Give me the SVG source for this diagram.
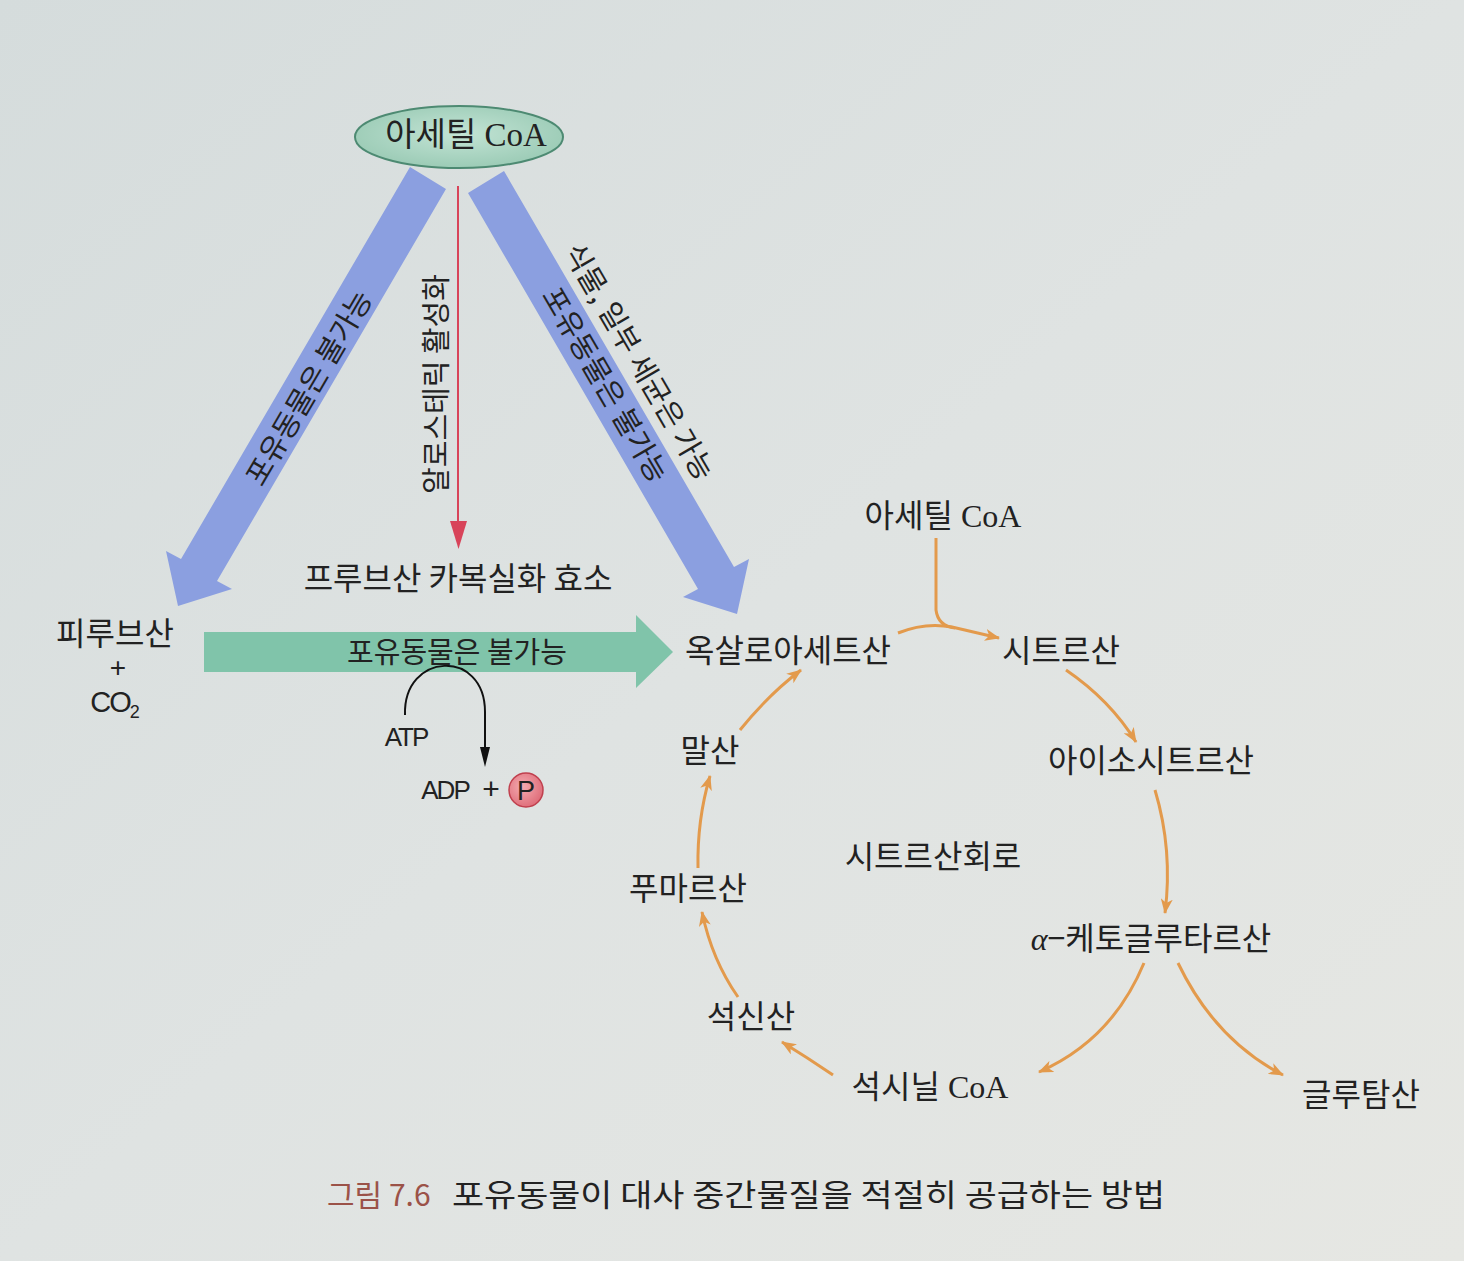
<svg xmlns="http://www.w3.org/2000/svg" width="1464" height="1261" viewBox="0 0 1464 1261">
<defs>
<linearGradient id="bg" x1="0" y1="0" x2="1" y2="1">
<stop offset="0" stop-color="#d5dcdc"/>
<stop offset="0.5" stop-color="#dfe3e2"/>
<stop offset="1" stop-color="#e6e7e3"/>
</linearGradient>
<radialGradient id="ell" cx="0.5" cy="0.45" r="0.6">
<stop offset="0" stop-color="#c3e4d5"/>
<stop offset="1" stop-color="#98c9b3"/>
</radialGradient>
<radialGradient id="pc" cx="0.4" cy="0.4" r="0.6">
<stop offset="0" stop-color="#f4aab0"/>
<stop offset="1" stop-color="#e0707c"/>
</radialGradient>
<marker id="oh" markerUnits="userSpaceOnUse" markerWidth="16" markerHeight="12" refX="14" refY="6" orient="auto">
<path d="M0,0 L15,6 L0,12 L4,6 Z" fill="#e39a4c"/>
</marker>
</defs>
<style>
.kr{font-family:"Noto Sans CJK KR","Noto Sans",sans-serif;fill:#222}
.mix{font-family:"Liberation Serif","Noto Sans CJK KR",serif;fill:#222}
.lat{font-family:"Liberation Sans","Noto Sans",sans-serif;fill:#222}
.node{font-size:32px;text-anchor:middle}
.lab{font-size:29px;text-anchor:middle}
.blue{fill:#8b9fe0}
.orange{fill:none;stroke:#e39a4c;stroke-width:3;marker-end:url(#oh)}
</style>
<rect width="1464" height="1261" fill="url(#bg)"/>

<g id="connectors">
<polygon id="arrow-left" class="blue" points="410,167 446,189 217,581 232,589 178,606 166,551 181,559"/>
<polygon id="arrow-right" class="blue" points="468,193 504,171 734,567 749,559 737,614 683,597 698,589"/>
<line x1="458" y1="186" x2="458" y2="525" stroke="#d8445a" stroke-width="2"/>
<polygon points="450,521 467,521 458.5,549" fill="#d8445a"/>
<polygon id="arrow-green" points="204,632 636,632 636,615 673,652 636,688 636,672 204,672" fill="#80c4aa"/>
<path d="M405,715 C403,652 485,648 485,712 L485,752" fill="none" stroke="#111" stroke-width="2"/>
<polygon points="480,747 490,747 485,767" fill="#111"/>
<path d="M936,538 L936,610 Q938,626 955,628" fill="none" stroke="#e39a4c" stroke-width="3"/>
<path class="orange" d="M898,633 Q925,622 952,627 L999,638"/>
<path class="orange" d="M1066,670 Q1110,700 1136,742"/>
<path class="orange" d="M1155,790 Q1173,850 1165,913"/>
<path class="orange" d="M1144,963 Q1112,1040 1039,1072"/>
<path class="orange" d="M1178,963 Q1215,1040 1283,1075"/>
<path class="orange" d="M833,1075 Q808,1058 782,1042"/>
<path class="orange" d="M738,997 Q712,960 702,912"/>
<path class="orange" d="M698,868 Q697,820 710,776"/>
<path class="orange" d="M740,730 Q768,695 801,670"/>
</g>

<g id="labels">
<text class="kr lab" transform="translate(309,388) rotate(-59.7)" y="10">포유동물은 불가능</text>
<text class="kr lab" transform="translate(437,384) rotate(-90)" y="10">알로스테릭 활성화</text>
<text class="kr lab" transform="translate(605,385) rotate(59.8)" y="10">포유동물은 불가능</text>
<text class="kr lab" transform="translate(639,362) rotate(59.8)" y="10">식물, 일부 세균은 가능</text>
<text class="kr lab" x="457" y="663">포유동물은 불가능</text>
</g>

<g id="node-acetylcoa-top">
<ellipse cx="459" cy="137" rx="104" ry="31" fill="url(#ell)" stroke="#4d8a72" stroke-width="2"/>
<text class="mix" x="466" y="146" font-size="33" text-anchor="middle">아세틸 CoA</text>
</g>
<g id="node-pyruvate">
<text class="kr node" x="115" y="645">피루브산</text>
<text class="lat" x="118" y="677" font-size="28" text-anchor="middle">+</text>
<text class="lat" x="114" y="712" font-size="29" text-anchor="middle" letter-spacing="-2">CO<tspan font-size="18" dy="6">2</tspan></text>
</g>
<g id="node-pc">
<text class="kr node" x="458" y="590">프루브산 카복실화 효소</text>
</g>
<g id="node-atp">
<text class="lat" x="406" y="746" font-size="26" text-anchor="middle" letter-spacing="-2">ATP</text>
<text class="lat" x="445" y="799" font-size="26" text-anchor="middle" letter-spacing="-2">ADP</text>
<text class="lat" x="491" y="799" font-size="30" text-anchor="middle">+</text>
<circle cx="526" cy="790" r="17" fill="url(#pc)" stroke="#c0404e" stroke-width="1.5"/>
<text class="lat" x="526" y="800" font-size="27" text-anchor="middle">P</text>
</g>
<g id="node-oaa"><text class="kr node" x="788" y="662">옥살로아세트산</text></g>
<g id="node-acetylcoa"><text class="mix node" x="943" y="527">아세틸 CoA</text></g>
<g id="node-citrate"><text class="kr node" x="1061" y="662">시트르산</text></g>
<g id="node-isocitrate"><text class="kr node" x="1151" y="772">아이소시트르산</text></g>
<g id="node-akg"><text class="kr node" x="1151" y="950"><tspan font-family="Liberation Serif" font-style="italic">α</tspan>−케토글루타르산</text></g>
<g id="node-glutamate"><text class="kr node" x="1361" y="1106">글루탐산</text></g>
<g id="node-succoa"><text class="mix node" x="930" y="1098">석시닐 CoA</text></g>
<g id="node-succinate"><text class="kr node" x="751" y="1028">석신산</text></g>
<g id="node-fumarate"><text class="kr node" x="688" y="900">푸마르산</text></g>
<g id="node-malate"><text class="kr node" x="710" y="762">말산</text></g>
<g id="node-tca"><text class="kr node" x="933" y="868">시트르산회로</text></g>

<g id="caption">
<text class="kr" x="327" y="1206" font-size="30" style="fill:#9b5248">그림 7.6</text>
<text class="kr" x="452" y="1206" font-size="31" textLength="713" lengthAdjust="spacingAndGlyphs">포유동물이 대사 중간물질을 적절히 공급하는 방법</text>
</g>
</svg>
